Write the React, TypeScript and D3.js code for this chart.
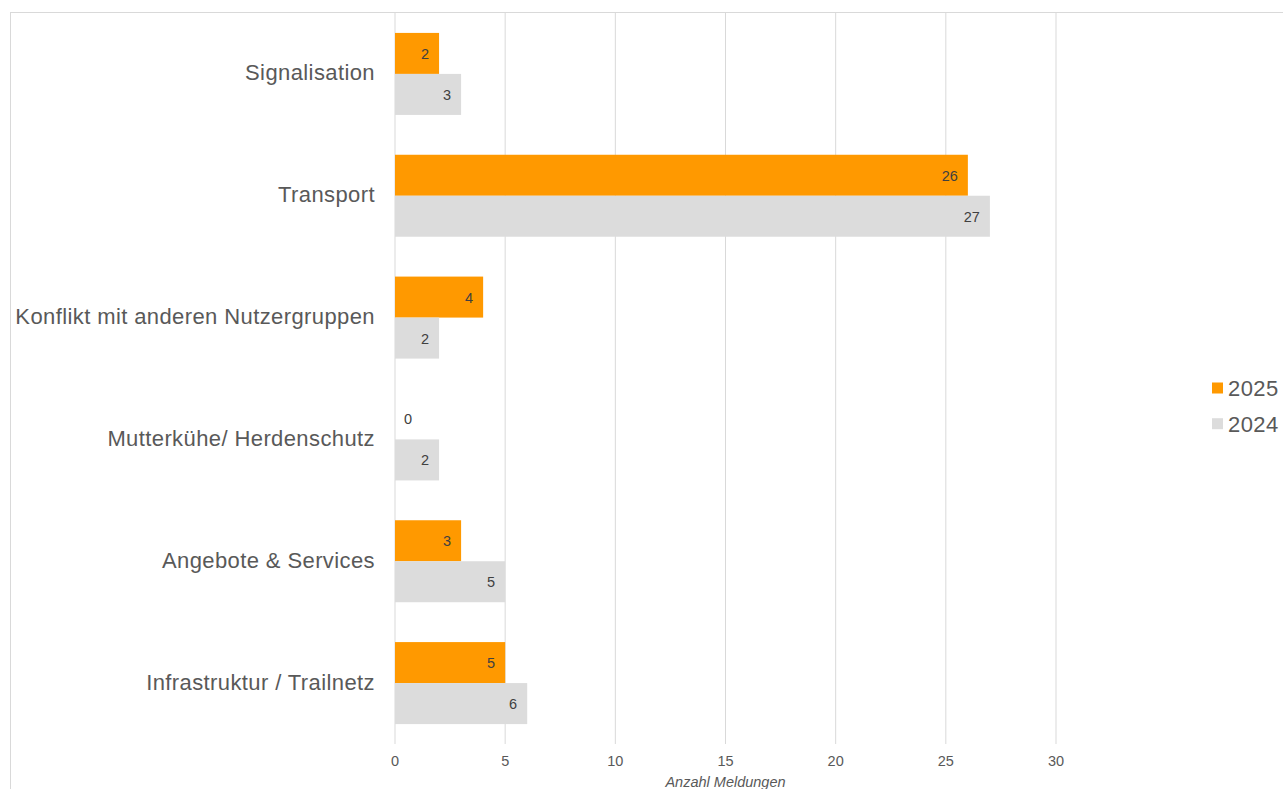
import React from "react";
import * as d3 from "d3";

const categories = [
  "Signalisation",
  "Transport",
  "Konflikt mit anderen Nutzergruppen",
  "Mutterkühe/ Herdenschutz",
  "Angebote & Services",
  "Infrastruktur / Trailnetz",
];
const series2025 = [2, 26, 4, 0, 3, 5];
const series2024 = [3, 27, 2, 2, 5, 6];
const seriesNames = ["2025", "2024"];
const xTicks = [0, 5, 10, 15, 20, 25, 30];
const axisTitle = "Anzahl Meldungen";

const W = 1283;
const H = 789;
const ORANGE = "#FF9900";
const GRAY = "#DCDCDC";
const GRID = "#D9D9D9";
const FONT = "'Liberation Sans', Arial, sans-serif";

export default function App() {
  const x = d3.scaleLinear().domain([0, 30]).range([395, 1056]);
  const y = d3
    .scaleBand<string>()
    .domain(categories)
    .range([13, 744])
    .paddingInner(0.327)
    .paddingOuter(0.1635);
  const inner = d3.scaleBand<string>().domain(seriesNames).range([0, y.bandwidth()]);
  const colors: Record<string, string> = { "2025": ORANGE, "2024": GRAY };
  const values: Record<string, number[]> = { "2025": series2025, "2024": series2024 };

  return (
    <svg
      width={W}
      height={H}
      style={{ position: "absolute", left: 0, top: 0, background: "#fff" }}
      fontFamily={FONT}
    >
      <rect x={10.5} y={12.5} width={1300} height={900} fill="#fff" stroke={GRID} strokeWidth={1} />
      {xTicks.map((t) => (
        <g key={t}>
          <line x1={x(t)} x2={x(t)} y1={13} y2={744} stroke={GRID} strokeWidth={1} />
          <text x={x(t)} y={766} textAnchor="middle" fontSize={14.5} fill="#595959">
            {t}
          </text>
        </g>
      ))}
      {categories.map((c, i) => (
        <g key={c}>
          {seriesNames.map((s) => {
            const v = values[s][i];
            const by = (y(c) as number) + (inner(s) as number);
            const bh = inner.bandwidth();
            return (
              <g key={s}>
                <rect x={x(0)} y={by} width={x(v) - x(0)} height={bh} fill={colors[s]} />
                <text
                  x={v === 0 ? x(0) + 9 : x(v) - 10}
                  y={by + bh / 2 + 5.5}
                  textAnchor={v === 0 ? "start" : "end"}
                  fontSize={14.5}
                  fill="#404040"
                >
                  {v}
                </text>
              </g>
            );
          })}
          <text
            x={375}
            y={(y(c) as number) + y.bandwidth() / 2 + 6.5}
            textAnchor="end"
            fontSize={22}
            letterSpacing={0.4}
            fill="#595959"
          >
            {c}
          </text>
        </g>
      ))}
      <text x={x(15)} y={787} textAnchor="middle" fontSize={14.5} fontStyle="italic" fill="#595959">
        {axisTitle}
      </text>
      {seriesNames.map((s, i) => (
        <g key={s}>
          <rect x={1212} y={382.5 + i * 35.7} width={11} height={11} fill={colors[s]} />
          <text x={1228} y={396 + i * 35.7} fontSize={22} letterSpacing={0.4} fill="#595959">
            {s}
          </text>
        </g>
      ))}
    </svg>
  );
}
